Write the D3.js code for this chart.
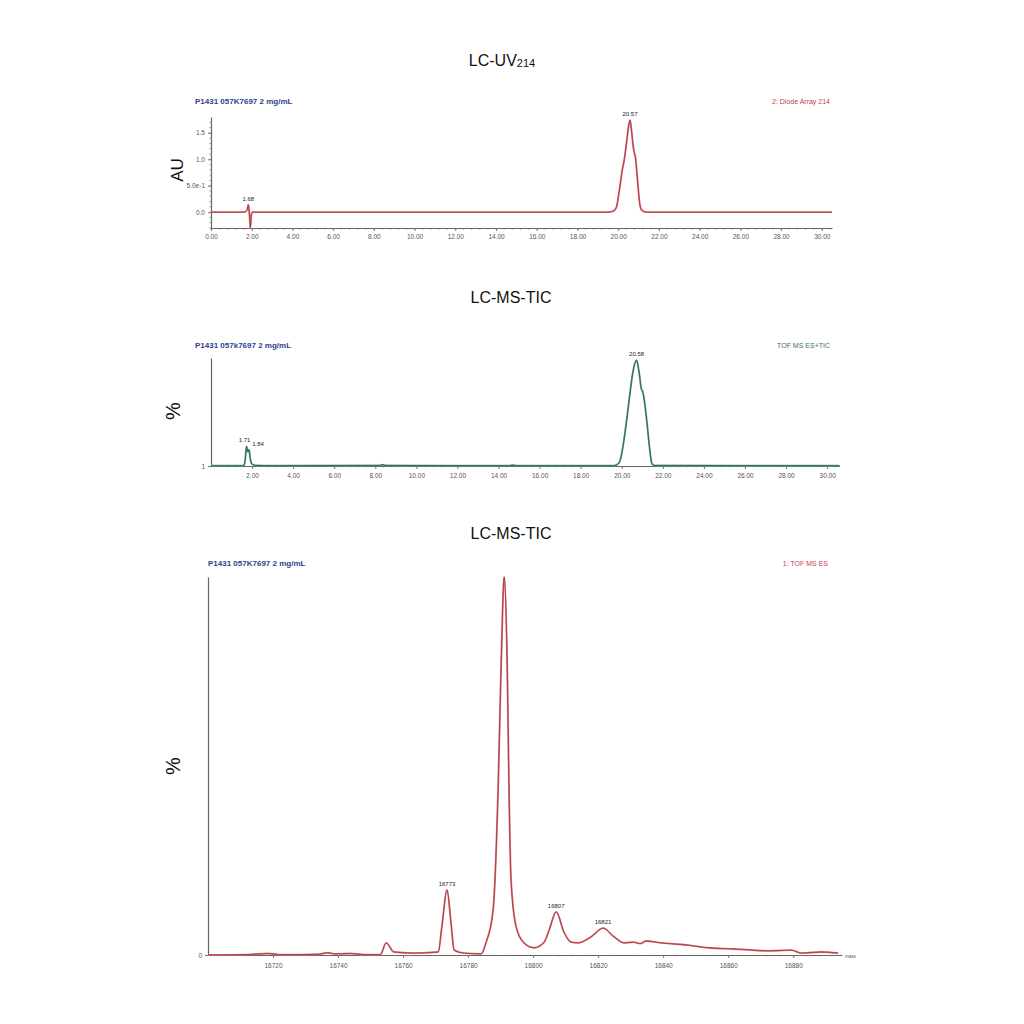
<!DOCTYPE html>
<html>
<head>
<meta charset="utf-8">
<script src="https://cdn.jsdelivr.net/npm/d3@7"></script>
<style>
  html, body { margin: 0; background: #fff; }
  svg { display: block; font-family: "Liberation Sans", Arial, sans-serif; }
  .tick text { fill: #555; }
</style>
</head>
<body>
<div id="Chart"></div>
<script>
// UV 214 nm trace: [time (min), absorbance (AU)]
const uvTrace = [
  [0,0],[1.5,0],[1.7,0.01],[1.78,0.05],[1.83,0.14],[1.87,0.04],[1.9,-0.12],[1.93,-0.3],[1.97,-0.1],[2.02,0],
  [19.5,0],[19.75,0.02],[19.9,0.08],[20.05,0.4],[20.2,0.8],[20.3,1.0],[20.42,1.35],[20.52,1.65],[20.58,1.74],
  [20.65,1.55],[20.75,1.2],[20.85,1.02],[20.95,0.6],[21.05,0.18],[21.15,0.04],[21.35,0],[30.5,0]
];
const uvPeaks = [[1.83, 0.14, "1.68"], [20.58, 1.74, "20.57"]];
const uvYTicks = [0, 0.5, 1.0, 1.5];
const uvYLabels = ["0.0", "5.0e-1", "1.0", "1.5"];

// TIC trace: [time (min), %]
const ticTrace = [
  [0,1.2],[1.6,1.2],[1.66,6],[1.73,19],[1.79,14],[1.85,16],[1.91,8],[1.98,3],[2.15,1.6],[3,1.3],
  [8.2,1.4],[8.35,2.2],[8.5,1.4],[14.5,1.3],[14.7,1.8],[14.9,1.3],[19.6,1.3],[19.75,2],[19.9,5],
  [20.05,18],[20.25,45],[20.4,68],[20.55,88],[20.72,98],[20.85,86],[20.95,72],[21.02,69],[21.12,58],
  [21.23,40],[21.35,18],[21.47,3],[21.6,1.4],[30.6,1.2]
];
const ticPeaks = [[1.73, 19, "1.71", -2], [1.85, 16, "1.84", 9], [20.72, 98, "20.58", 0]];
const ticYTicks = [1];
const ticYLabels = ["1"];

// Deconvoluted mass spectrum: [mass (Da), %]
const msTrace = [
  [16700.3,0],[16712,0.1],[16718.5,0.4],[16722,0.1],[16728.6,0.1],[16734,0.2],[16736.9,0.6],[16739,0.3],
  [16744,0.4],[16748,0.1],[16753,0.1],[16754.8,3.2],[16757.2,0.8],[16763.4,0.5],[16770.8,0.8],[16772,8],
  [16773.5,17.2],[16774.8,8],[16775.7,1.3],[16778.8,0.5],[16784,0.3],[16785.5,3.2],[16787.7,12],
  [16789.2,43],[16790.2,78],[16791.1,100],[16792,78],[16792.6,43],[16793.2,20],[16794.8,7.4],
  [16797.2,3.2],[16800.3,1.9],[16803.4,3.4],[16805,6.8],[16807.1,11.4],[16809.5,6],[16811.7,3.4],
  [16813.8,3.2],[16817.8,4.8],[16821.5,7.1],[16824.9,4.8],[16828,3.2],[16830.8,3.4],[16832.9,3.0],
  [16834.8,3.7],[16839.4,3.2],[16847.7,2.6],[16853.8,1.9],[16861.8,1.6],[16872.3,1.1],[16879.4,1.3],
  [16882.5,0.5],[16888.6,0.8],[16893.8,0.5]
];
const msPeaks = [[16773.5, 17.2, "16773"], [16807.1, 11.4, "16807"], [16821.5, 7.1, "16821"]];
const msXTicks = [16720, 16740, 16760, 16780, 16800, 16820, 16840, 16860, 16880];
const msYTicks = [0];

const W = 1024, H = 1024;
const svg = d3.select("#Chart").append("svg").attr("width", W).attr("height", H);

const red = {outer: "#e0767e", inner: "#8c2a33"};
const green = {outer: "#62a588", inner: "#1f4d3a"};

function title(y, main, sub, cx) {
  const t = svg.append("text").attr("x", cx).attr("y", y).attr("text-anchor", "middle")
    .attr("font-size", 16).attr("fill", "#111");
  t.append("tspan").text(main);
  if (sub) t.append("tspan").attr("font-size", 11).attr("dy", 1).text(sub);
}

function yLabel(x, y, txt, size) {
  svg.append("text").attr("transform", `translate(${x} ${y}) rotate(-90)`)
    .attr("text-anchor", "middle").attr("font-size", size).attr("fill", "#111").text(txt);
}

function headerLabels(y, left, leftX, right, rightX, rightColor) {
  svg.append("text").attr("x", leftX).attr("y", y).attr("font-size", 8).attr("font-weight", "bold")
    .attr("fill", "#2d3f8c").text(left);
  svg.append("text").attr("x", rightX).attr("y", y).attr("text-anchor", "end").attr("font-size", 7)
    .attr("fill", rightColor).text(right);
}

function trace(g, data, x, y, col) {
  const line = d3.line().x(d => x(d[0])).y(d => y(d[1])).curve(d3.curveMonotoneX);
  g.append("path").attr("d", line(data)).attr("fill", "none")
    .attr("stroke", col.outer).attr("stroke-width", 1.9).attr("stroke-linejoin", "round");
  g.append("path").attr("d", line(data)).attr("fill", "none")
    .attr("stroke", col.inner).attr("stroke-width", 0.7).attr("stroke-linejoin", "round");
}

function peakLabels(g, peaks, x, y) {
  g.selectAll("text.peak").data(peaks).join("text")
    .attr("class", "peak")
    .attr("x", d => x(d[0]) + (d[3] || 0))
    .attr("y", d => y(d[1]) - 4)
    .attr("text-anchor", "middle").attr("font-size", 6).attr("fill", "#222")
    .text(d => d[2]);
}

function styleAxis(a) {
  a.select(".domain").attr("stroke", "#666").attr("stroke-width", 1.2);
  a.selectAll(".tick line").attr("stroke", "#777");
  a.selectAll(".tick text").attr("font-size", 6.5).attr("font-family", "Liberation Sans, Arial");
}

function minorTicks(g, scale, values, orient, pos, len) {
  g.selectAll(null).data(values).join("line")
    .attr("x1", d => orient === "x" ? scale(d) : pos)
    .attr("x2", d => orient === "x" ? scale(d) : pos - len)
    .attr("y1", d => orient === "x" ? pos : scale(d))
    .attr("y2", d => orient === "x" ? pos + len : scale(d))
    .attr("stroke", "#888").attr("stroke-width", 0.6);
}

// ---------- Panel 1: LC-UV214 ----------
{
  title(66, "LC-UV", "214", 502);
  headerLabels(104, "P1431 057K7697 2 mg/mL", 195, "2: Diode Array 214", 830, "#c8404a");
  yLabel(183, 170, "AU", 17);
  const x = d3.scaleLinear([0, 30.5], [211, 832]);
  const y = d3.scaleLinear([-0.3, 1.8], [228, 117]);
  const g = svg.append("g");
  minorTicks(g, x, d3.range(0, 30.5, 0.4), "x", 228, 2);
  minorTicks(g, y, d3.range(-0.3, 1.8, 0.1), "y", 211, 2);
  const ax = g.append("g").attr("transform", "translate(0 228)")
    .call(d3.axisBottom(x).tickValues(d3.range(0, 31, 2)).tickFormat(d3.format(".2f")).tickSize(3).tickSizeOuter(0));
  styleAxis(ax);
  const ay = g.append("g").attr("transform", "translate(211 0)")
    .call(d3.axisLeft(y).tickValues(uvYTicks).tickFormat((d, i) => uvYLabels[i]).tickSize(3).tickSizeOuter(0));
  styleAxis(ay);
  trace(g, uvTrace, x, y, red);
  peakLabels(g, uvPeaks, x, y);
}

// ---------- Panel 2: LC-MS-TIC ----------
{
  title(303, "LC-MS-TIC", null, 511);
  headerLabels(348, "P1431 057k7697  2 mg/mL", 195, "TOF MS ES+TIC", 830, "#3f6f5c");
  yLabel(180, 411, "%", 20);
  const x = d3.scaleLinear([0, 30.6], [211, 839.5]);
  const y = d3.scaleLinear([1, 100], [466, 358]);
  const g = svg.append("g");
  minorTicks(g, x, d3.range(0, 30.6, 0.4), "x", 466, 1.5);
  const ax = g.append("g").attr("transform", "translate(0 466)")
    .call(d3.axisBottom(x).tickValues(d3.range(2, 31, 2)).tickFormat(d3.format(".2f")).tickSize(3).tickSizeOuter(0));
  styleAxis(ax);
  ax.selectAll(".tick text").attr("dy", "0.85em");
  const ay = g.append("g").attr("transform", "translate(211 0)")
    .call(d3.axisLeft(y).tickValues(ticYTicks).tickFormat((d, i) => ticYLabels[i]).tickSize(3).tickSizeOuter(0));
  styleAxis(ay);
  trace(g, ticTrace, x, y, green);
  peakLabels(g, ticPeaks, x, y);
}

// ---------- Panel 3: deconvoluted mass ----------
{
  title(539, "LC-MS-TIC", null, 511);
  headerLabels(566, "P1431 057K7697 2 mg/mL", 208, "1: TOF MS ES", 828, "#c8404a");
  yLabel(180, 766, "%", 20);
  const x = d3.scaleLinear([16700, 16895], [208, 842]);
  const y = d3.scaleLinear([0, 100], [955, 577]);
  const g = svg.append("g");
  minorTicks(g, x, d3.range(16704, 16895, 4), "x", 955, 1.5);
  const ax = g.append("g").attr("transform", "translate(0 955)")
    .call(d3.axisBottom(x).tickValues(msXTicks).tickFormat(d3.format("d")).tickSize(3).tickSizeOuter(0));
  styleAxis(ax);
  ax.selectAll(".tick text").attr("dy", "1em");
  const ay = g.append("g").attr("transform", "translate(208 0)")
    .call(d3.axisLeft(y).tickValues(msYTicks).tickFormat(d3.format("d")).tickSize(3).tickSizeOuter(0));
  styleAxis(ay);
  trace(g, msTrace, x, y, red);
  peakLabels(g, msPeaks, x, y);
  g.append("text").attr("x", 845).attr("y", 958).attr("font-size", 4.5).attr("fill", "#555").text("mass");
}
</script>
</body>
</html>
